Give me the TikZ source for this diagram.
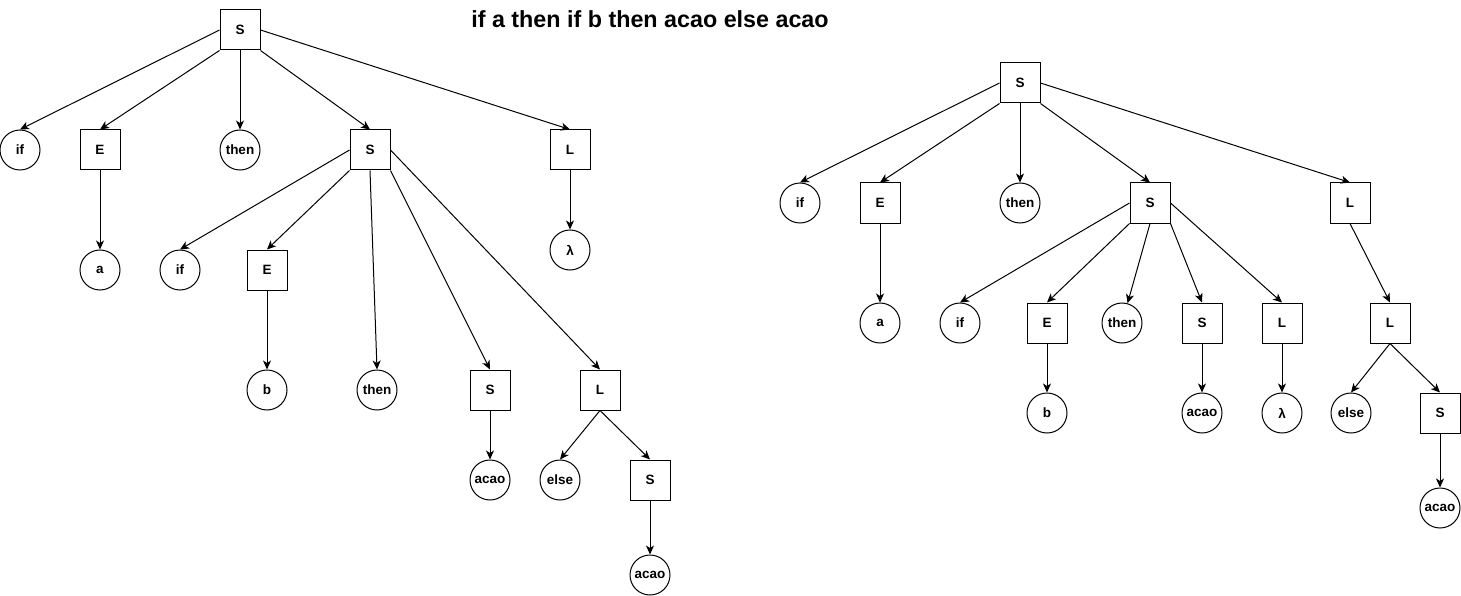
\documentclass[tikz,border=0pt]{standalone}
\usepackage{fontspec}
\setmainfont{Liberation Sans}
\usetikzlibrary{arrows.meta}
\tikzset{
  sq/.style={draw, line width=1pt, rectangle, minimum width=40pt, minimum height=40pt, inner sep=0pt, font=\fontsize{13.5}{16}\selectfont\bfseries},
  ci/.style={draw, line width=1pt, circle, minimum size=40pt, inner sep=0pt, font=\fontsize{13.5}{16}\selectfont\bfseries},
  edge/.style={line width=1pt, -{Stealth[length=9pt,width=8pt,inset=2.5pt]}},
  ttl/.style={font=\fontsize{23.3}{26}\selectfont\bfseries, inner sep=0pt}
}
\begin{document}
\begin{tikzpicture}[x=1pt,y=-1pt]
\useasboundingbox (0,0) rectangle (1461,596);
\node[ttl] (title) at (650,19) {if a then if b then acao else acao};
% left tree
\node[sq] (lS) at (240,30) {S};
\node[ci] (lif) at (20,150) {if};
\node[sq] (lE) at (100,150) {E};
\node[ci] (lthen) at (240,150) {then};
\node[sq] (lS2) at (370,150) {S};
\node[sq] (lL) at (570,150) {L};
\node[ci] (la) at (100,270) {a};
\node[ci] (llam) at (570,250) {λ};
\node[ci] (lif2) at (180,270) {if};
\node[sq] (lE2) at (267,270) {E};
\node[ci] (lb) at (267,390) {b};
\node[ci] (lthen2) at (377,390) {then};
\node[sq] (lS3) at (490,390) {S};
\node[sq] (lL2) at (600,390) {L};
\node[ci] (lacao) at (490,480) {acao};
\node[ci] (lelse) at (560,480) {else};
\node[sq] (lS4) at (650,480) {S};
\node[ci] (lacao2) at (650,575) {acao};
\draw[edge] (lS.west) -- (lif.north);
\draw[edge] (lS.south west) -- (lE.north);
\draw[edge] (lS.south) -- (lthen.north);
\draw[edge] (lS.south east) -- (lS2.north);
\draw[edge] (lS.east) -- (lL.north);
\draw[edge] (lE.south) -- (la.north);
\draw[edge] (lL.south) -- (llam.north);
\draw[edge] (lS2.west) -- (lif2.north);
\draw[edge] (lS2.south west) -- (lE2.north);
\draw[edge] (lS2.south) -- (lthen2.north);
\draw[edge] (lS2.south east) -- (lS3.north);
\draw[edge] (lS2.east) -- (lL2.north);
\draw[edge] (lE2.south) -- (lb.north);
\draw[edge] (lS3.south) -- (lacao.north);
\draw[edge] (lL2.south) -- (lelse.north);
\draw[edge] (lL2.south) -- (lS4.north);
\draw[edge] (lS4.south) -- (lacao2.north);
% right tree
\node[sq] (rS) at (1020,83) {S};
\node[ci] (rif) at (800,203) {if};
\node[sq] (rE) at (880,203) {E};
\node[ci] (rthen) at (1020,203) {then};
\node[sq] (rS2) at (1150,203) {S};
\node[sq] (rL) at (1350,203) {L};
\node[ci] (ra) at (880,323) {a};
\node[ci] (rif2) at (960,323) {if};
\node[sq] (rE2) at (1047,323) {E};
\node[ci] (rthen2) at (1122,323) {then};
\node[sq] (rS3) at (1202,323) {S};
\node[sq] (rL2) at (1282,323) {L};
\node[sq] (rL3) at (1390,323) {L};
\node[ci] (rb) at (1047,413) {b};
\node[ci] (racao) at (1202,413) {acao};
\node[ci] (rlam) at (1282,413) {λ};
\node[ci] (relse) at (1351,413) {else};
\node[sq] (rS4) at (1440,413) {S};
\node[ci] (racao2) at (1440,508) {acao};
\draw[edge] (rS.west) -- (rif.north);
\draw[edge] (rS.south west) -- (rE.north);
\draw[edge] (rS.south) -- (rthen.north);
\draw[edge] (rS.south east) -- (rS2.north);
\draw[edge] (rS.east) -- (rL.north);
\draw[edge] (rE.south) -- (ra.north);
\draw[edge] (rS2.west) -- (rif2.north);
\draw[edge] (rS2.south west) -- (rE2.north);
\draw[edge] (rS2.south) -- (rthen2);
\draw[edge] (rS2.south east) -- (rS3.north);
\draw[edge] (rS2.east) -- (rL2.north);
\draw[edge] (rE2.south) -- (rb.north);
\draw[edge] (rS3.south) -- (racao.north);
\draw[edge] (rL2.south) -- (rlam.north);
\draw[edge] (rL.south) -- (rL3.north);
\draw[edge] (rL3.south) -- (relse.north);
\draw[edge] (rL3.south) -- (rS4.north);
\draw[edge] (rS4.south) -- (racao2.north);
\end{tikzpicture}
\end{document}
